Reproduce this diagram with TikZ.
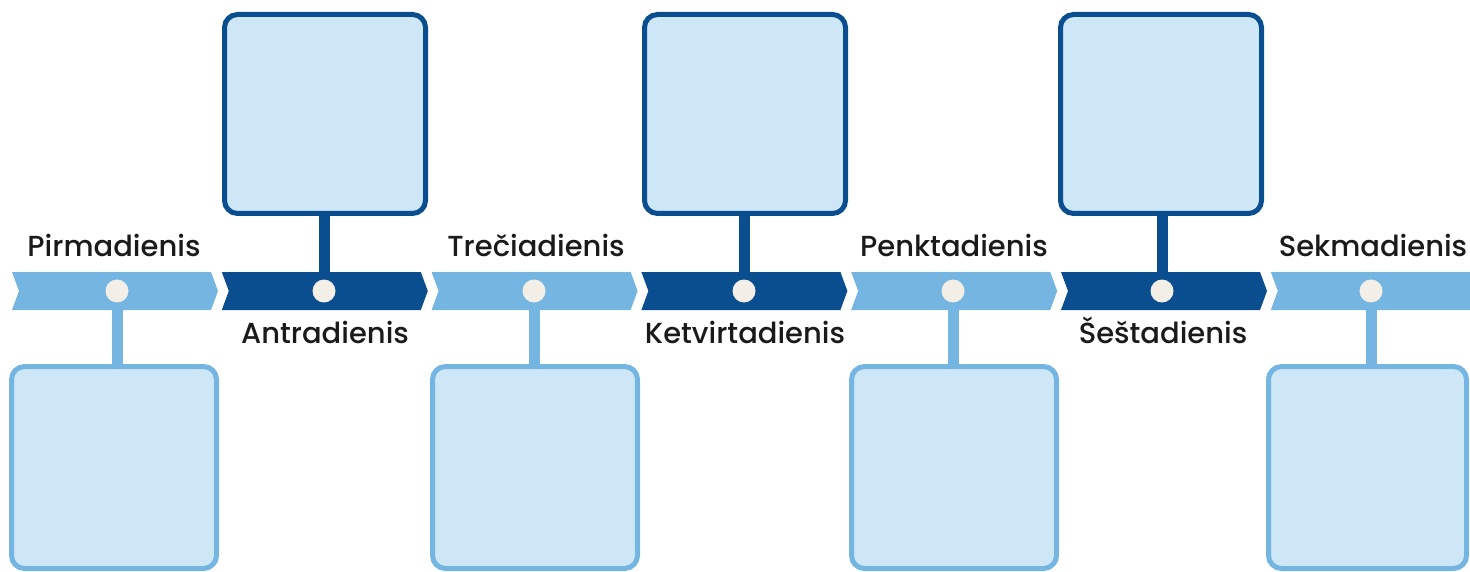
\documentclass[tikz,border=0pt]{standalone}
\usepackage{fontspec}
\setmainfont{Poppins}[BoldFont=* Medium]
\definecolor{lightband}{HTML}{74B5E1}
\definecolor{darkband}{HTML}{0B4E8F}
\definecolor{boxfill}{HTML}{CDE7F6}
\definecolor{dotfill}{HTML}{F3EFE6}
\definecolor{labeltext}{HTML}{1A1A1A}
\tikzset{
  topbox/.style={draw=darkband, fill=boxfill, line width=5pt, rounded corners=13pt,
    minimum width=201pt, minimum height=199pt, inner sep=0pt},
  botbox/.style={draw=lightband, fill=boxfill, line width=5pt, rounded corners=13pt,
    minimum width=205pt, minimum height=202pt, inner sep=0pt},
  dot/.style={circle, fill=dotfill, minimum size=23pt, inner sep=0pt},
  daylabel/.style={text=labeltext, font=\bfseries\fontsize{29}{32}\selectfont, inner sep=0pt, anchor=base},
  stemlight/.style={draw=lightband, line width=11pt},
  stemdark/.style={draw=darkband, line width=11pt},
}
\begin{document}
\begin{tikzpicture}[x=1pt,y=-1pt]
\useasboundingbox (0,0) rectangle (1470,572);
% box nodes
\node[botbox] (b1) at (114,467.5) {};
\node[topbox] (t2) at (325,114) {};
\node[botbox] (b3) at (535,467.5) {};
\node[topbox] (t4) at (745,114) {};
\node[botbox] (b5) at (954,467.5) {};
\node[topbox] (t6) at (1161,114) {};
\node[botbox, minimum width=198pt] (b7) at (1367.5,467.5) {};
% dot coordinates
\foreach \i/\x in {1/117,2/324,3/534,4/744,5/953,6/1162,7/1371}{
  \coordinate (p\i) at (\x,291);
}
% stems
\draw[stemlight] (p1) -- (p1 |- b1.north);
\draw[stemdark]  (p2) -- (p2 |- t2.south);
\draw[stemlight] (p3) -- (p3 |- b3.north);
\draw[stemdark]  (p4) -- (p4 |- t4.south);
\draw[stemlight] (p5) -- (p5 |- b5.north);
\draw[stemdark]  (p6) -- (p6 |- t6.south);
\draw[stemlight] (p7) -- (p7 |- b7.north);
% chevron band
\foreach \L/\c in {12/lightband,221.8/darkband,431.6/lightband,641.4/darkband,851.2/lightband,1061/darkband}{
  \fill[\c] (\L,272) -- (\L+199,272) -- (\L+206,291) -- (\L+199,310) -- (\L,310) -- (\L+7,291) -- cycle;
}
\fill[lightband] (1270.8,272) -- (1470,272) -- (1470,310) -- (1270.8,310) -- (1277.8,291) -- cycle;
% dots
\foreach \i in {1,...,7}{
  \node[dot] (d\i) at (p\i) {};
}
% labels
\node[daylabel] (l1) at (114,256) {Pirmadienis};
\node[daylabel] (l2) at (325,343) {Antradienis};
\node[daylabel] (l3) at (536,256) {Trečiadienis};
\node[daylabel] (l4) at (745,343) {Ketvirtadienis};
\node[daylabel] (l5) at (954,256) {Penktadienis};
\node[daylabel] (l6) at (1163,343) {Šeštadienis};
\node[daylabel] (l7) at (1373,256) {Sekmadienis};
\end{tikzpicture}
\end{document}
